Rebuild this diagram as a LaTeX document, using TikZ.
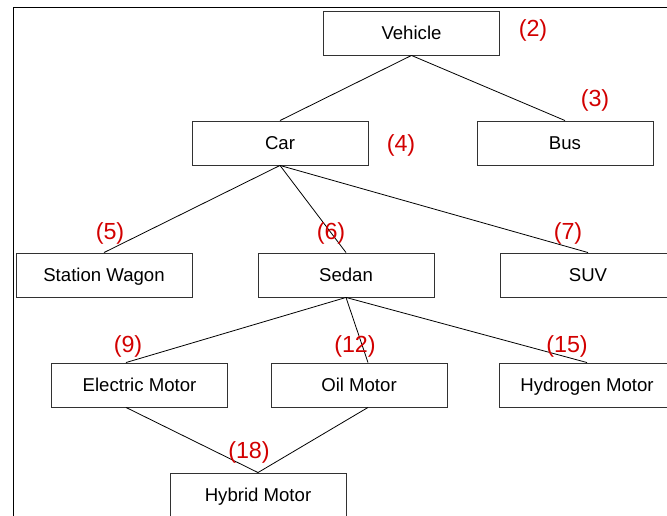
\documentclass[tikz,border=0pt]{standalone}
\usepackage{fontspec}
\setmainfont{Liberation Sans}
\usetikzlibrary{calc}
\definecolor{labelred}{RGB}{210,0,0}
\definecolor{boxline}{RGB}{50,50,50}
\begin{document}
\begin{tikzpicture}[x=1pt,y=-1pt,
  classbox/.style={draw=boxline,line width=0.9pt,minimum width=176pt,minimum height=44pt,inner sep=0pt,
    text height=16pt,text depth=3.4pt,font=\fontsize{18.6}{20}\selectfont},
  link/.style={draw=black,line width=0.8pt},
  tag/.style={text=labelred,inner sep=0pt,font=\fontsize{23.3}{25}\selectfont}]
\useasboundingbox (0,0) rectangle (667,516);
\clip (0,0) rectangle (667,516);
% outer frame
\draw[line width=0.9pt] (13,560) -- (13,7) -- (700,7);

% class boxes
\node[classbox] (vehicle)  at (411.5,33) {Vehicle};
\node[classbox] (car)      at (280,143)  {Car};
\node[classbox] (bus)      at (565,143)  {Bus};
\node[classbox] (wagon)    at (104,275)  {Station Wagon};
\node[classbox] (sedan)    at (346,275)  {Sedan};
\node[classbox] (suv)      at (588,275)  {SUV};
\node[classbox] (electric) at (139.5,385) {Electric Motor};
\node[classbox] (oil)      at (359,385)  {Oil Motor};
\node[classbox] (hydrogen) at (587,385)  {Hydrogen Motor};
\node[classbox] (hybrid)   at (258,495)  {Hybrid Motor};

% off-centre attachment points
\coordinate (electricN) at ($(electric.north)+(-13.5,0)$);
\coordinate (electricS) at ($(electric.south)+(-13.5,0)$);
\coordinate (oilN) at ($(oil.north)+(9,0)$);
\coordinate (oilS) at ($(oil.south)+(9,0)$);

% connectors
\draw[link] (vehicle.south) -- (car.north);
\draw[link] (vehicle.south) -- (bus.north);
\draw[link] (car.south) -- (wagon.north);
\draw[link] (car.south) -- (sedan.north);
\draw[link] (car.south) -- (suv.north);
\draw[link] (sedan.south) -- (electricN);
\draw[link] (sedan.south) -- (oilN);
\draw[link] (sedan.south) -- (hydrogen.north);
\draw[link] (electricS) -- (hybrid.north);
\draw[link] (oilS) -- (hybrid.north);

% numbered tags
\node[tag] (t2)  at (533,30)  {(2)};
\node[tag] (t3)  at (595,100) {(3)};
\node[tag] (t4)  at (401,145) {(4)};
\node[tag] (t5)  at (110,233) {(5)};
\node[tag] (t6)  at (331,233) {(6)};
\node[tag] (t7)  at (568,233) {(7)};
\node[tag] (t9)  at (128,346) {(9)};
\node[tag] (t12) at (355,346) {(12)};
\node[tag] (t15) at (567,346) {(15)};
\node[tag] (t18) at (249,452) {(18)};
\end{tikzpicture}
\end{document}
